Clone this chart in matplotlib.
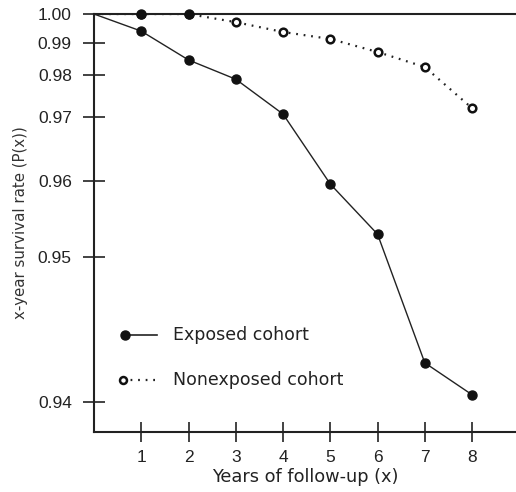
import numpy as np
import matplotlib
matplotlib.use('Agg')
import matplotlib.pyplot as plt

plt.rcParams['font.family'] = ['Liberation Sans', 'DejaVu Sans']

years = [0, 1, 2, 3, 4, 5, 6, 7, 8]
exposed = [1.000, 0.9941, 0.9847, 0.9790, 0.9707, 0.9596, 0.9530, 0.9427, 0.9405]
nonexposed = [1.000, 1.000, 1.000, 0.9972, 0.9938, 0.9914, 0.9872, 0.9825, 0.9721]
y_ticks = [0.94, 0.95, 0.96, 0.97, 0.98, 0.99, 1.00]
x_ticks = [1, 2, 3, 4, 5, 6, 7, 8]

# uneven probability axis: breakpoints of the vertical scale (value -> height)
scale_vals = np.array([0.93, 0.94, 0.95, 0.96, 0.97, 0.98, 0.99, 1.00, 1.01])
scale_pos = np.array([-115, 30, 175, 251, 315, 357, 389, 418, 447], dtype=float)


def fwd(v):
    return np.interp(v, scale_vals, scale_pos)


def inv(p):
    return np.interp(p, scale_pos, scale_vals)


fig = plt.figure(figsize=(5.16, 4.92), dpi=100)
ax = fig.add_axes([0.1822, 0.1220, 0.8178, 0.8495])
ax.set_yscale('function', functions=(fwd, inv))

ax.plot(years, exposed, color='#222222', lw=1.0, marker='o', ms=6.5,
        mfc='#111111', mec='#111111', markevery=slice(1, None), zorder=3)
ax.plot(years, nonexposed, color='#222222', lw=1.6, ls=(0, (0.8, 2.6)),
        marker='o', ms=5.5, mfc='white', mec='#111111', mew=1.8,
        markevery=slice(1, None), zorder=3)
# points sitting on the 1.00 line print as solid dots
top = [i for i in range(1, len(years)) if nonexposed[i] >= 1.0]
ax.plot([years[i] for i in top], [nonexposed[i] for i in top], ls='none',
        marker='o', ms=6.5, color='#111111', zorder=4, clip_on=False)

ax.set_xlim(0, 8.93)
ax.set_ylim(inv(0), 1.0)

ax.set_xticks(x_ticks)
ax.set_yticks(y_ticks)
ax.set_yticklabels(['%.2f' % v for v in y_ticks])
ax.yaxis.set_minor_locator(matplotlib.ticker.NullLocator())
ax.tick_params(axis='y', direction='inout', length=16, width=1.2, pad=8,
               labelsize=12.5, colors='#222222')
ax.tick_params(axis='x', direction='inout', length=14, width=1.2, pad=6,
               labelsize=12.5, colors='#222222')

for side in ['left', 'bottom', 'top']:
    ax.spines[side].set_linewidth(1.5)
    ax.spines[side].set_color('#222222')
ax.spines['right'].set_visible(False)

ax.set_xlabel('Years of follow-up (x)', fontsize=12.8, color='#222222', labelpad=2,
              family='DejaVu Sans')
ax.set_ylabel('x-year survival rate (P(x))', fontsize=10.8, color='#333333', labelpad=7,
              family='DejaVu Sans')

# hand-placed key
ax.plot([0.0735, 0.150], [0.232, 0.232], transform=ax.transAxes, color='#222222',
        lw=1.2, clip_on=False)
ax.plot([0.0735], [0.232], transform=ax.transAxes, marker='o', ms=6.5,
        color='#111111', clip_on=False)
ax.plot([0.069, 0.152], [0.124, 0.124], transform=ax.transAxes, color='#222222',
        lw=1.6, ls=(0, (0.8, 2.6)), clip_on=False)
ax.plot([0.069], [0.124], transform=ax.transAxes, marker='o', ms=5,
        mfc='white', mec='#111111', mew=1.8, clip_on=False)
ax.text(0.187, 0.232, 'Exposed cohort', transform=ax.transAxes, fontsize=12.5,
        va='center', color='#222222', family='DejaVu Sans')
ax.text(0.187, 0.124, 'Nonexposed cohort', transform=ax.transAxes, fontsize=12.5,
        va='center', color='#222222', family='DejaVu Sans')

fig.savefig('out.png', dpi=100)
